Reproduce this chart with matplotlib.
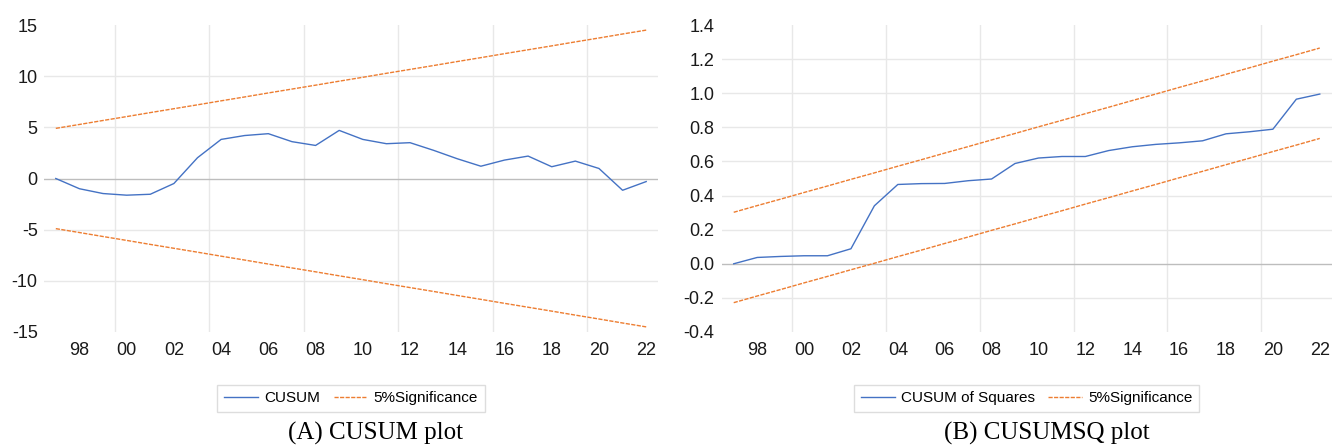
#!/usr/bin/env python3
# -*- coding: utf-8 -*-
"""
CUSUM and CUSUM of squares stability plots, side by side.
"""

import matplotlib
matplotlib.use('Agg')
import matplotlib.pyplot as plt
import numpy as np

##! Data:
years = list(range(1997, 2023))

cusum = [0.0, -1.0, -1.47, -1.63, -1.54, -0.49, 2.03, 3.82, 4.2, 4.38,
         3.6, 3.23, 4.7, 3.82, 3.4, 3.5, 2.75, 1.93, 1.2, 1.8,
         2.19, 1.15, 1.7, 0.98, -1.15, -0.3]
cusum_up = [4.90, 5.28, 5.67, 6.05, 6.44, 6.82, 7.20, 7.59, 7.97, 8.36,
            8.74, 9.12, 9.51, 9.89, 10.28, 10.66, 11.04, 11.43, 11.81, 12.20,
            12.58, 12.96, 13.35, 13.73, 14.12, 14.50]
cusum_lo = [-4.90, -5.28, -5.67, -6.05, -6.44, -6.82, -7.20, -7.59, -7.97, -8.36,
            -8.74, -9.12, -9.51, -9.89, -10.28, -10.66, -11.04, -11.43, -11.81, -12.20,
            -12.58, -12.96, -13.35, -13.73, -14.12, -14.50]

cusumsq = [0.0, 0.037, 0.043, 0.047, 0.047, 0.088, 0.34, 0.465, 0.47, 0.471,
           0.487, 0.497, 0.588, 0.62, 0.629, 0.629, 0.664, 0.686, 0.70, 0.709,
           0.721, 0.762, 0.774, 0.789, 0.965, 0.995]
cusumsq_up = [0.302, 0.341, 0.379, 0.418, 0.456, 0.495, 0.533, 0.572, 0.610, 0.649,
              0.687, 0.726, 0.764, 0.803, 0.841, 0.880, 0.918, 0.957, 0.995, 1.034,
              1.072, 1.111, 1.149, 1.188, 1.226, 1.265]
cusumsq_lo = [-0.228, -0.189, -0.151, -0.112, -0.074, -0.035, 0.003, 0.042, 0.080, 0.119,
              0.157, 0.196, 0.234, 0.273, 0.311, 0.350, 0.388, 0.427, 0.465, 0.504,
              0.542, 0.581, 0.619, 0.658, 0.696, 0.735]

xticks = list(range(1998, 2023, 2))
xtick_labels = ['98', '00', '02', '04', '06', '08', '10', '12', '14', '16', '18', '20', '22']
xgrid = [1999.5, 2003.5, 2007.5, 2011.5, 2015.5, 2019.5]

yticks_a = [-15, -10, -5, 0, 5, 10, 15]
yticks_b = [-0.4, -0.2, 0.0, 0.2, 0.4, 0.6, 0.8, 1.0, 1.2, 1.4]

blue = '#4472C4'
orange = '#ED7D31'
grid_c = '#E8E8E8'
zero_c = '#BDBDBD'

plt.rcParams['font.family'] = ['Liberation Sans', 'DejaVu Sans']

fig = plt.figure(figsize=(13.35, 4.47), dpi=100)
axA = fig.add_axes([44/1335, 1-332/447, 614/1335, 307/447])
axB = fig.add_axes([722/1335, 1-332/447, 609.5/1335, 307/447])


def style_axes(ax, yticks, fmt, ypad):
    ax.set_xlim(1996.5, 2022.5)
    ax.set_ylim(yticks[0], yticks[-1])
    for s in ax.spines.values():
        s.set_visible(False)
    for g in xgrid:
        ax.axvline(g, color=grid_c, lw=1.0, zorder=0)
    for t in yticks[1:-1]:
        if abs(t) < 1e-9:
            ax.axhline(t, color=zero_c, lw=1.0, zorder=1)
        else:
            ax.axhline(t, color=grid_c, lw=1.0, zorder=0)
    ax.set_xticks(xticks)
    ax.set_xticklabels(xtick_labels)
    ax.set_yticks(yticks)
    ax.set_yticklabels([fmt % t for t in yticks])
    ax.tick_params(axis='x', length=0, pad=7, labelsize=13, labelcolor='#1a1a1a')
    ax.tick_params(axis='y', length=0, pad=ypad, labelsize=13, labelcolor='#1a1a1a')


#-- (A) CUSUM
style_axes(axA, yticks_a, '%d', 4.5)
axA.plot(years, cusum, '-', color=blue, lw=1.0, label='CUSUM', zorder=3)
axA.plot(years, cusum_up, color=orange, lw=1.0, ls=(0, (3, 1)), label='5%Significance', zorder=3)
axA.plot(years, cusum_lo, color=orange, lw=1.0, ls=(0, (3, 1)), zorder=3)

#-- (B) CUSUMSQ
style_axes(axB, yticks_b, '%.1f', 5.5)
axB.plot(years, cusumsq, '-', color=blue, lw=1.0, label='CUSUM of Squares', zorder=3)
axB.plot(years, cusumsq_up, color=orange, lw=1.0, ls=(0, (3, 1)), label='5%Significance', zorder=3)
axB.plot(years, cusumsq_lo, color=orange, lw=1.0, ls=(0, (3, 1)), zorder=3)

#-- legends below each panel
for ax in (axA, axB):
    leg = ax.legend(loc='center', bbox_to_anchor=(0.5, -0.2166), ncol=2, fontsize=11,
                    frameon=True, fancybox=False, framealpha=1, edgecolor='#DDDDDD',
                    handlelength=2.2, handletextpad=0.4, columnspacing=0.9,
                    borderpad=0.45)
    leg.get_frame().set_linewidth(1.0)

#-- captions
fig.text(375.5/1335, 1-433/447, '(A) CUSUM plot', ha='center', va='center',
         fontsize=18, family=['Liberation Serif', 'DejaVu Serif'])
fig.text(1046.5/1335, 1-433/447, '(B) CUSUMSQ plot', ha='center', va='center',
         fontsize=18, family=['Liberation Serif', 'DejaVu Serif'])

plt.savefig('out.png', dpi=100)
plt.close()
